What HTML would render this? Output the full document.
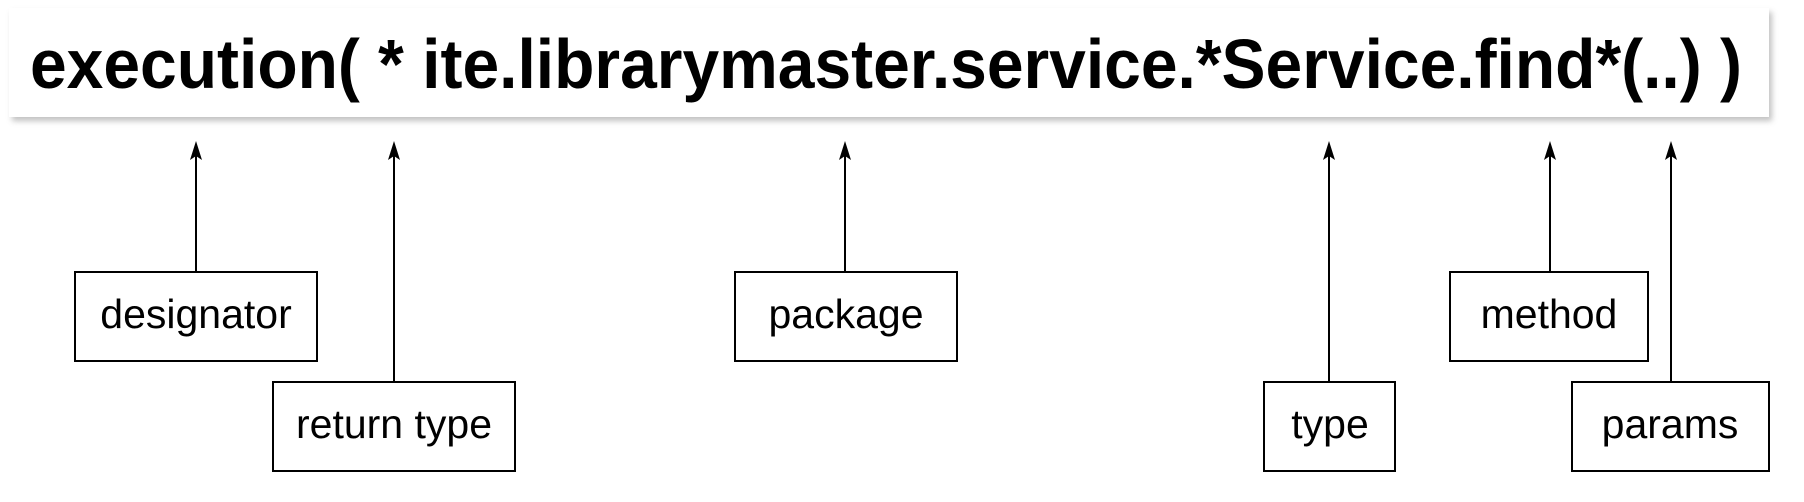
<!DOCTYPE html>
<html><head><meta charset="utf-8"><style>
html,body{margin:0;padding:0;background:#fff;width:1804px;height:502px;overflow:hidden}
</style></head><body>
<svg width="1804" height="502" viewBox="0 0 1804 502" xmlns="http://www.w3.org/2000/svg" font-family="Liberation Sans, Arial, sans-serif">
<defs>
<filter id="sh" x="-5%" y="-20%" width="110%" height="150%"><feGaussianBlur stdDeviation="3"/></filter>
</defs>
<rect x="12" y="12" width="1760" height="109" fill="#999" opacity="0.6" filter="url(#sh)"/>
<rect x="9" y="8" width="1760" height="109" fill="#fff"/>
<text x="30" y="88" font-size="70" font-weight="bold" textLength="1712" lengthAdjust="spacingAndGlyphs">execution( * ite.librarymaster.service.*Service.find*(..) )</text>
<g stroke="#000" stroke-width="2" fill="none">
<line x1="196" y1="150" x2="196" y2="272"/>
<line x1="394" y1="150" x2="394" y2="382"/>
<line x1="845" y1="150" x2="845" y2="272"/>
<line x1="1329" y1="150" x2="1329" y2="382"/>
<line x1="1550" y1="150" x2="1550" y2="272"/>
<line x1="1671" y1="150" x2="1671" y2="382"/>
<rect x="75" y="272" width="242" height="89"/>
<rect x="273" y="382" width="242" height="89"/>
<rect x="735" y="272" width="222" height="89"/>
<rect x="1264" y="382" width="131" height="89"/>
<rect x="1450" y="272" width="198" height="89"/>
<rect x="1572" y="382" width="197" height="89"/>
</g>
<g fill="#000">
<path d="M196 141 L190 160 L196 156 L202 160Z"/>
<path d="M394 141 L388 160 L394 156 L400 160Z"/>
<path d="M845 141 L839 160 L845 156 L851 160Z"/>
<path d="M1329 141 L1323 160 L1329 156 L1335 160Z"/>
<path d="M1550 141 L1544 160 L1550 156 L1556 160Z"/>
<path d="M1671 141 L1665 160 L1671 156 L1677 160Z"/>
</g>
<g font-size="41" text-anchor="middle" fill="#000">
<text x="196" y="328">designator</text>
<text x="394" y="438">return type</text>
<text x="846" y="328">package</text>
<text x="1330" y="438">type</text>
<text x="1549" y="328">method</text>
<text x="1670" y="438">params</text>
</g>
</svg>
</body></html>
